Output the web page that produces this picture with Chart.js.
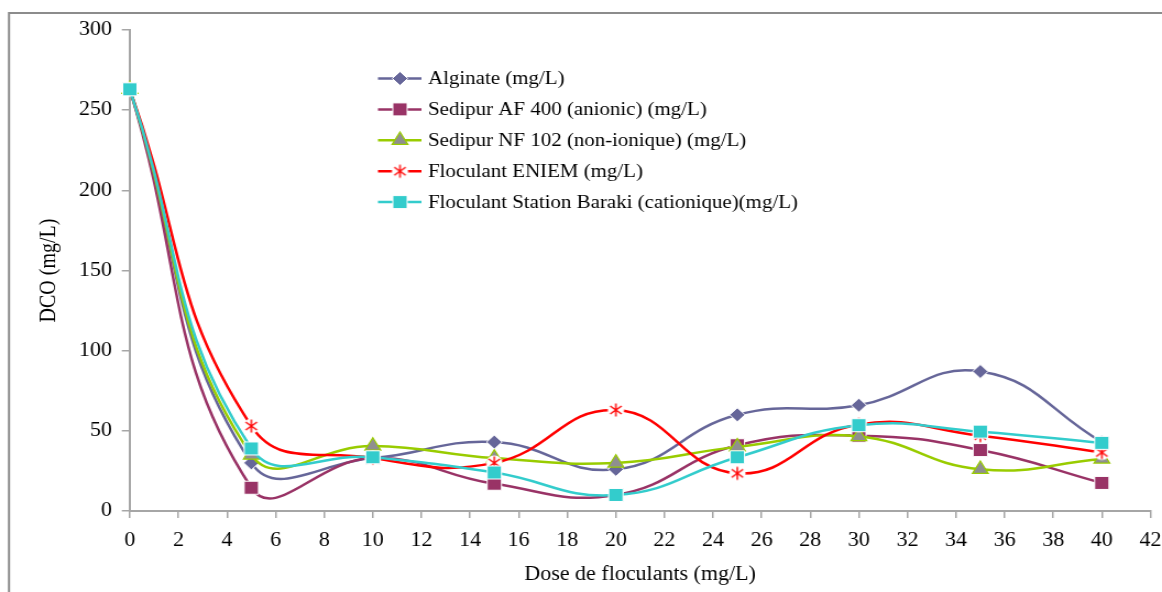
<!DOCTYPE html>
<html>
<head>
<meta charset="utf-8">
<script src="https://cdn.jsdelivr.net/npm/chart.js@4.4.1/dist/chart.umd.min.js"></script>
<style>
  html, body { margin: 0; padding: 0; background: #fff; }
  #wrap { width: 1162px; height: 592px; overflow: hidden; }
</style>
</head>
<body>
<!-- the drawing is laid out on a slightly narrower canvas and widened on screen -->
<div id="wrap"><canvas id="c" width="1056" height="592" style="width:1162px;height:592px;display:block;"></canvas></div>
<script>
// Doses (mg/L) and DCO (mg/L) measured for each flocculant
const doses = [0, 5, 10, 15, 20, 25, 30, 35, 40];
const alginate = [263, 30, 33, 43, 26, 60, 66, 87, 43];
const sedipurAF400 = [263, 14.5, 33, 17, 10, 41, 47, 38, 17.5];
const sedipurNF102 = [263, 35, 40.5, 33, 30, 40, 46.5, 26, 32.5];
const eniem = [263, 53, 33, 30, 63, 23.5, 54, 47, 36.5];
const baraki = [263, 39, 33.5, 24, 10, 33.5, 53.5, 49.5, 42.5];

const seriesNames = [
  'Alginate (mg/L)',
  'Sedipur AF 400 (anionic) (mg/L)',
  'Sedipur NF 102 (non-ionique) (mg/L)',
  'Floculant ENIEM (mg/L)',
  'Floculant Station Baraki (cationique)(mg/L)'
];

const FONT = '"Liberation Serif", "Times New Roman", serif';

// asterisk marker with a white backing, as used for the ENIEM series
function makeStar() {
  const s = 18, c = document.createElement('canvas');
  c.width = s; c.height = s;
  const g = c.getContext('2d');
  g.fillStyle = '#ffffff';
  g.beginPath(); g.arc(s / 2, s / 2, 7.5, 0, Math.PI * 2); g.fill();
  g.strokeStyle = '#ff0000'; g.lineWidth = 1.4;
  const r = 6.5;
  g.beginPath();
  g.moveTo(s / 2 - r * 0.8, s / 2 - r * 0.62); g.lineTo(s / 2 + r * 0.8, s / 2 + r * 0.62);
  g.moveTo(s / 2 - r * 0.8, s / 2 + r * 0.62); g.lineTo(s / 2 + r * 0.8, s / 2 - r * 0.62);
  g.moveTo(s / 2, s / 2 - r); g.lineTo(s / 2, s / 2 + r);
  g.stroke();
  return c;
}
const starImg = makeStar();

function pts(arr) { return doses.map((d, i) => ({ x: d, y: arr[i] })); }

const datasets = [
  { label: seriesNames[0], data: pts(alginate), borderColor: '#666699', backgroundColor: '#666699',
    pointStyle: 'rectRot', pointRadius: 7, pointBorderColor: '#ffffff', pointBorderWidth: 1, order: 5 },
  { label: seriesNames[1], data: pts(sedipurAF400), borderColor: '#993366', backgroundColor: '#993366',
    pointStyle: 'rect', pointRadius: 9.2, pointBorderColor: '#ffffff', pointBorderWidth: 1, order: 4 },
  { label: seriesNames[2], data: pts(sedipurNF102), borderColor: '#99CC00', backgroundColor: '#8f8f8f',
    pointStyle: 'triangle', pointRadius: 8.3, pointBorderColor: '#99CC00', pointBorderWidth: 1.2, order: 3 },
  { label: seriesNames[3], data: pts(eniem), borderColor: '#FF0000', backgroundColor: '#FF0000',
    pointStyle: starImg, pointRadius: 8, order: 2 },
  { label: seriesNames[4], data: pts(baraki), borderColor: '#33CCCC', backgroundColor: '#33CCCC',
    pointStyle: 'rect', pointRadius: 9.2, pointBorderColor: '#ffffff', pointBorderWidth: 1, order: 1 }
].map(d => Object.assign({ borderWidth: 2.5, tension: 0.45, clip: false, pointHoverRadius: d.pointRadius }, d));

// outer frame (left and top edges)
const framePlugin = {
  id: 'frame',
  beforeDraw(chart) {
    const ctx = chart.ctx;
    ctx.save();
    ctx.strokeStyle = '#8c8c8c';
    ctx.lineWidth = 2;
    ctx.beginPath();
    ctx.moveTo(8.2, 592); ctx.lineTo(8.2, 13); ctx.lineTo(chart.width, 13);
    ctx.stroke();
    ctx.restore();
  }
};

// legend placed inside the plot, drawn with the datasets' own styles
const legendPlugin = {
  id: 'placedLegend',
  afterDraw(chart) {
    const ctx = chart.ctx;
    const x0 = 343.5, x1 = 383, xm = 363.5, xt = 389, y0 = 78.5, dy = 30.9;
    ctx.save();
    chart.data.datasets.forEach((ds, i) => {
      const y = y0 + i * dy;
      ctx.strokeStyle = ds.borderColor;
      ctx.lineWidth = 2.5;
      ctx.beginPath(); ctx.moveTo(x0, y); ctx.lineTo(x1, y); ctx.stroke();
      ctx.fillStyle = ds.backgroundColor;
      ctx.strokeStyle = ds.pointBorderColor || ds.borderColor;
      ctx.lineWidth = ds.pointBorderWidth || 1;
      Chart.helpers.drawPoint(ctx, { pointStyle: ds.pointStyle, radius: ds.pointRadius, borderWidth: ds.pointBorderWidth || 1 }, xm, y);
      ctx.fillStyle = '#000';
      ctx.font = '19px ' + FONT;
      ctx.textBaseline = 'middle';
      ctx.textAlign = 'left';
      ctx.fillText(ds.label, xt, y + 1);
    });
    ctx.restore();
  }
};

new Chart(document.getElementById('c'), {
  type: 'line',
  data: { datasets },
  options: {
    responsive: false,
    animation: false,
    events: [],
    devicePixelRatio: 1,
    layout: { padding: { top: 30, right: 7, left: 0, bottom: 0 } },
    elements: { line: { capBezierPoints: false } },
    plugins: { legend: { display: false }, tooltip: { enabled: false } },
    scales: {
      x: {
        type: 'linear', min: 0, max: 42,
        ticks: { stepSize: 2, padding: 11, color: '#000', font: { family: FONT, size: 20 } },
        grid: { drawOnChartArea: false, drawTicks: true, tickLength: 7, color: '#a6a6a6', lineWidth: 1.5 },
        border: { color: '#a6a6a6', width: 2 },
        title: { display: true, text: 'Dose de floculants (mg/L)', color: '#000',
                 font: { family: FONT, size: 20 }, padding: { top: 0, bottom: 5 } },
        afterFit(s) { s.height = 81; s.paddingLeft = 0; s.paddingRight = 0; }
      },
      y: {
        min: 0, max: 300,
        ticks: { stepSize: 50, padding: 9, color: '#000', font: { family: FONT, size: 20 } },
        grid: { drawOnChartArea: false, drawTicks: true, tickLength: 7.3, color: '#a6a6a6', lineWidth: 1.5 },
        border: { color: '#a6a6a6', width: 2 },
        title: { display: true, text: 'DCO (mg/L)', color: '#000',
                 font: { family: FONT, size: 20 }, padding: { top: 32.5, bottom: 0 } },
        afterFit(s) { s.width = 118; }
      }
    }
  },
  plugins: [framePlugin, legendPlugin]
});
</script>
</body>
</html>
